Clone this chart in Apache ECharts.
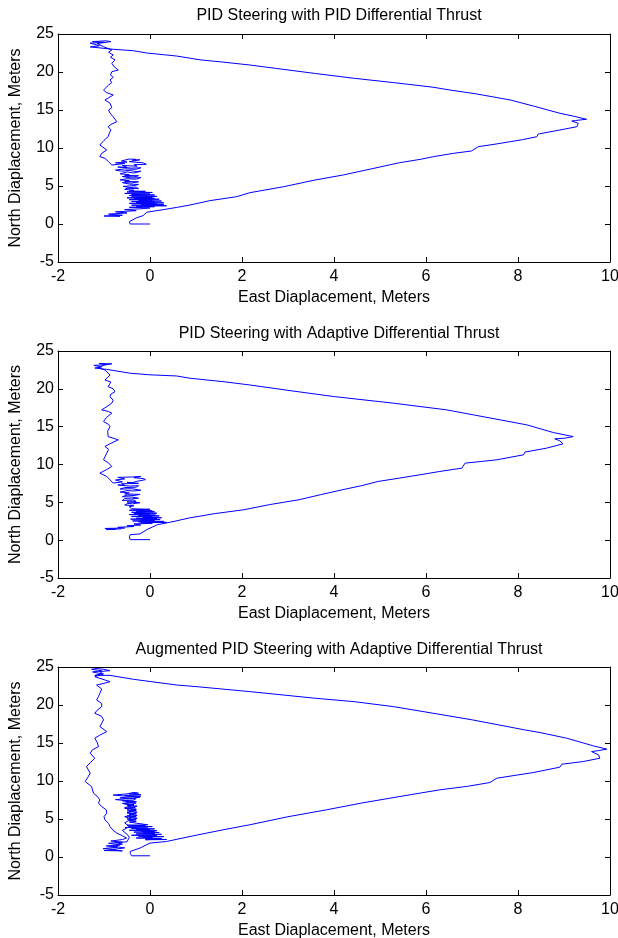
<!DOCTYPE html>
<html>
<head>
<meta charset="utf-8">
<script src="https://cdn.jsdelivr.net/npm/echarts@6/dist/echarts.min.js"></script>
<style>
html,body{margin:0;padding:0;background:#fff;}
#chart{width:618px;height:938px;}
</style>
</head>
<body>
<div id="chart"></div>
<script>
// ---- Data ----
const titles = [
  'PID Steering with PID Differential Thrust',
  'PID Steering with Adaptive Differential Thrust',
  'Augmented PID Steering with Adaptive Differential Thrust'
];
const xLabelName = 'East Diaplacement, Meters';
const yLabelName = 'North Diaplacement, Meters';
const xRange = [-2, 10];
const yRange = [-5, 25];

// Plot 1: PID steering / PID thrust  [east, north]
const pathPID = [
  [0,0],[-0.43,0],[-0.45,0.3],[-0.42,0.55],[-0.3,0.8],[-0.15,1.1],[-0.07,1.55],[0.3,1.9],[0.6,2.2],[0.87,2.5],
  [1.3,3.07],[1.88,3.59],[2.17,4.12],[2.9,4.9],[3.59,5.79],[4.2,6.45],[4.87,7.33],[5.43,8.07],[5.87,8.5],[6.16,8.86],
  [6.6,9.3],[6.99,9.61],[7.14,10.18],[7.5,10.5],[7.83,10.83],[8.1,11.1],[8.41,11.49],[8.44,11.84],[8.91,12.37],[9.28,12.8],
  [9.31,13.25],[9.17,13.55],[9.25,13.62],[9.49,13.78],
  [9.2,14.2],[8.91,14.57],[8.33,15.53],[7.83,16.32],[7.1,17.11],[6.52,17.63],[6.15,18.0],[5.3,18.6],[4.44,19.17],[3.6,19.8],
  [2.73,20.48],[2.17,20.92],[1.59,21.3],[1.09,21.6],[0.58,22.1],[-0.07,22.5],[-0.36,22.8],[-0.8,22.99],
  [-1.3,23.3],[-1.1,23.45],[-1.3,23.8],[-1.0,23.9],[-1.25,24.0],[-0.95,24.1],[-0.85,24.0],[-1.15,23.75],[-1.01,23.33],
  [-0.83,22.9],[-0.9,22.6],[-0.8,22.24],[-0.86,21.95],[-0.76,21.6],[-0.83,21.14],[-0.78,20.7],[-0.69,20.26],[-0.83,20.04],
  [-0.86,19.6],[-0.8,19.3],[-0.87,18.95],[-0.83,18.6],[-0.9,18.29],[-1.01,17.63],[-0.95,17.3],[-0.8,16.97],[-0.9,16.6],
  [-0.98,16.32],[-0.87,15.9],[-0.85,15.66],[-0.83,15.3],[-0.9,15.0],[-0.87,14.6],[-0.8,14.1],[-0.72,13.46],[-0.85,13.1],
  [-0.91,12.8],[-0.85,12.4],[-0.88,12.0],[-0.91,11.49],[-1.0,11.0],[-1.09,10.39],[-1.0,10.0],[-0.94,9.74],[-1.05,9.3],
  [-1.09,8.86],[-0.98,8.64],[-0.9,8.2],[-0.83,7.76],
  [-0.55,7.95],[-0.75,8.05],[-0.5,8.15],[-0.62,8.3],[-0.45,8.55],[-0.3,8.5],[-0.38,8.4],[-0.22,8.45],[-0.25,8.3],[-0.45,8.2],
  [-0.15,8.05],[-0.08,7.85],[-0.35,7.8],[-0.28,7.6],[-0.6,7.7],[-0.5,7.45],[-0.7,7.5],[-0.4,7.35],[-0.2,7.4],[-0.3,7.2],
  [-0.55,7.25],[-0.75,7.1],[-0.62,6.95],[-0.45,7.05],[-0.3,6.9],[-0.2,6.95],[-0.35,6.7],[-0.5,6.85],[-0.65,6.6],[-0.45,6.5],
  [-0.55,6.4],[-0.25,6.35],[-0.35,6.2],[-0.6,6.25],[-0.4,6.05],[-0.2,6.1],[-0.3,5.9],[-0.5,5.95],[-0.65,5.8],[-0.45,5.7],
  [-0.55,5.6],[-0.25,5.55],[-0.4,5.4],[-0.6,5.45],[-0.45,5.25],[-0.25,5.2],[-0.35,5.05],[-0.58,4.95],[-0.45,4.8],[-0.3,4.85],
  [-0.25,4.65],[-0.5,4.7],[-0.55,4.55],[-0.35,4.45],
  [-0.45,4.35],[-0.1,4.3],[-0.5,4.22],[0.05,4.15],[-0.3,4.1],[-0.55,4.02],[0.0,3.95],[-0.4,3.9],[0.1,3.82],[-0.45,3.75],
  [-0.05,3.7],[0.15,3.63],[-0.4,3.57],[0.05,3.5],[-0.5,3.44],[0.1,3.38],[-0.35,3.32],[0.2,3.26],[-0.45,3.2],[0.05,3.14],
  [-0.25,3.08],[0.25,3.02],[-0.4,2.96],[0.1,2.9],[-0.3,2.84],[0.3,2.78],[-0.45,2.72],[0.15,2.66],[-0.2,2.6],[0.3,2.54],
  [-0.4,2.48],[0.36,2.4],[-0.3,2.35],[0.1,2.28],[-0.45,2.2],[0.0,2.12],
  [-0.2,2.0],[-0.55,1.9],[-0.3,1.75],[-0.75,1.6],[-0.5,1.45],[-0.9,1.3],[-0.6,1.15],[-1.0,1.05],[-0.65,1.0]
];

// Plot 2: PID steering / adaptive thrust
const pathAdaptive = [
  [0,0.07],[-0.43,0.07],[-0.45,0.45],[-0.43,0.73],[-0.22,0.82],[-0.07,1.39],[0.16,2.04],[0.5,2.45],[0.85,2.93],[1.4,3.5],
  [2.04,4.02],[2.6,4.7],[3.24,5.34],[3.7,6.0],[4.18,6.66],[4.6,7.2],[4.96,7.76],[5.43,8.21],[5.87,8.64],[6.3,9.08],
  [6.78,9.52],[6.85,10.18],[7.2,10.4],[7.54,10.62],[8.12,11.28],[8.15,11.64],[8.62,12.16],[8.98,12.73],[8.91,13.13],[8.8,13.39],
  [9.02,13.48],[9.2,13.69],
  [8.77,14.22],[8.19,15.24],[7.61,15.9],[7.03,16.56],[6.45,17.22],[5.3,18.1],[4.01,18.97],[3.0,19.8],[2.17,20.51],[1.59,20.95],
  [0.87,21.4],[0.58,21.7],[0.0,21.85],[-0.43,22.06],[-0.95,22.58],
  [-1.0,22.6],[-1.2,22.75],[-1.05,22.9],[-1.22,23.1],[-0.95,23.2],[-1.1,23.35],[-0.83,23.3],[-1.0,23.15],[-1.12,22.8],[-0.98,22.49],
  [-0.87,21.83],[-0.92,21.5],[-0.98,21.17],[-0.85,20.9],[-0.91,20.29],[-0.8,20.0],[-0.76,19.63],[-0.85,19.3],[-0.87,18.97],
  [-0.8,18.5],[-0.83,18.1],[-0.95,17.6],[-1.05,17.22],[-0.9,17.0],[-0.83,16.78],[-0.95,16.2],[-1.01,15.67],[-0.9,15.3],
  [-0.87,15.01],[-0.92,14.4],[-0.91,13.69],[-0.69,13.26],[-0.85,12.8],[-0.98,12.38],[-0.9,12.0],[-0.94,11.5],[-0.98,11.0],
  [-1.01,10.62],[-0.9,10.2],[-0.83,9.74],[-0.95,9.3],[-1.09,8.87],[-0.94,8.42],[-0.8,7.55],
  [-0.6,7.7],[-0.75,7.95],[-0.55,8.1],[-0.7,8.3],[-0.4,8.35],[-0.2,8.42],[-0.35,8.25],[-0.15,8.15],[-0.1,8.0],[-0.07,7.85],
  [-0.3,7.75],[-0.4,7.55],[-0.5,7.65],[-0.25,7.5],[-0.62,7.45],[-0.55,7.25],[-0.7,7.3],[-0.45,7.15],[-0.25,7.2],[-0.3,7.0],
  [-0.55,6.95],[-0.65,6.75],[-0.4,6.8],[-0.2,6.6],[-0.35,6.5],[-0.5,6.55],[-0.65,6.35],[-0.45,6.25],[-0.55,6.1],[-0.22,6.05],
  [-0.35,5.9],[-0.5,5.95],[-0.6,5.75],[-0.4,5.7],[-0.25,5.55],[-0.4,5.45],[-0.55,5.5],[-0.6,5.25],[-0.35,5.3],[-0.3,5.1],
  [-0.5,5.05],[-0.22,4.95],[-0.38,4.8],[-0.48,4.85],[-0.55,4.65],[-0.35,4.55],[-0.45,4.4],
  [-0.4,4.15],[0.0,4.08],[-0.35,4.02],[-0.45,3.95],[0.05,3.88],[-0.3,3.82],[0.1,3.75],[-0.4,3.68],[-0.05,3.62],[0.15,3.56],
  [-0.35,3.5],[0.0,3.44],[-0.45,3.38],[0.12,3.32],[-0.25,3.26],[0.2,3.2],[-0.4,3.14],[0.05,3.08],[-0.15,3.02],[0.25,2.96],
  [-0.3,2.9],[0.15,2.84],[-0.42,2.78],[0.22,2.72],[-0.2,2.66],[0.1,2.6],[-0.38,2.54],[0.3,2.48],[-0.25,2.42],[0.36,2.35],
  [-0.2,2.3],[0.05,2.22],[-0.35,2.15],
  [-0.2,2.0],[-0.5,1.9],[-0.35,1.8],[-0.7,1.7],[-0.55,1.6],[-0.98,1.55],[-0.75,1.45],[-0.95,1.4],[-0.62,1.5]
];

// Plot 3: augmented PID steering / adaptive thrust
const pathAugmented = [
  [0,0.16],[-0.4,0.16],[-0.43,0.45],[-0.43,0.73],[-0.22,1.17],[0,1.83],[0.36,2.04],[0.87,2.7],[1.59,3.58],[2.17,4.24],
  [3.0,5.3],[3.84,6.21],[4.6,7.1],[5.43,7.96],[6.3,8.84],[6.9,9.3],[7.39,9.8],[7.54,10.37],[8.0,10.8],[8.33,11.11],
  [8.91,11.82],[8.95,12.21],[9.42,12.56],[9.78,13.0],[9.75,13.44],[9.6,13.87],[9.75,14.0],[9.93,14.19],
  [9.64,14.62],[9.06,15.63],[8.48,16.37],[8.15,16.72],[7.01,18.04],[6.15,18.92],[5.3,19.78],[4.44,20.44],[3.59,20.89],
  [2.17,21.76],[1.02,22.41],[0.58,22.63],[-0.36,23.38],[-0.87,23.9],
  [-1.2,23.9],[-1.05,24.1],[-1.25,24.35],[-1.05,24.5],[-1.27,24.7],[-1.15,24.8],[-1.01,24.7],[-0.87,24.52],[-1.1,24.4],
  [-1.01,24.08],[-1.2,23.73],
  [-0.87,23.07],[-1.0,22.85],[-1.16,22.63],[-1.05,22.1],[-1.09,21.54],[-1.12,21.1],[-1.16,20.66],[-1.05,20.2],[-1.05,19.78],
  [-1.15,19.3],[-1.2,18.92],[-1.05,18.5],[-1.01,18.04],[-1.09,17.16],[-0.94,16.5],[-1.1,16.0],[-1.2,15.63],[-1.15,15.1],
  [-1.12,14.53],[-1.25,14.1],[-1.3,13.66],[-1.2,13.0],[-1.3,12.4],[-1.38,11.9],[-1.3,11.03],[-1.35,10.5],[-1.41,9.93],
  [-1.27,9.27],[-1.23,8.4],[-1.15,8.0],[-1.09,7.52],[-1.12,7.1],[-1.05,6.64],[-0.95,6.2],[-0.94,5.77],[-1.0,5.3],
  [-0.98,4.89],[-0.9,4.4],[-0.87,4.01],[-0.8,3.5],[-0.72,3.14],[-0.6,2.8],[-0.51,2.49],
  [-0.6,2.3],[-0.85,2.1],[-0.6,1.95],[-0.9,1.8],[-0.65,1.6],[-0.95,1.45],[-0.7,1.3],[-1.02,1.1],[-0.75,1.0],[-1.0,0.85],
  [-0.6,0.8],[-0.85,0.95],[-0.55,1.2],[-0.8,1.4],[-0.6,1.7],[-0.75,1.9],[-0.5,2.0],[-0.45,2.6],
  [-0.5,3.0],[-0.6,3.5],[-0.45,4.0],[-0.55,4.5],[-0.4,5.0],[-0.55,5.3],[-0.35,5.6],[-0.5,5.9],[-0.3,6.2],[-0.55,6.5],
  [-0.35,6.8],[-0.6,7.05],[-0.3,7.3],[-0.75,7.55],[-0.45,7.7],[-0.22,7.85],[-0.5,8.0],[-0.8,8.15],[-0.5,8.3],[-0.35,8.5],
  [-0.25,8.4],[-0.45,8.3],[-0.2,8.2],[-0.55,8.1],[-0.2,8.0],[-0.4,7.9],[-0.65,7.8],[-0.5,7.65],[-0.3,7.7],[-0.35,7.5],
  [-0.6,7.4],[-0.45,7.25],[-0.3,7.3],[-0.5,7.2],[-0.3,7.1],[-0.4,6.95],[-0.55,7.0],[-0.35,6.9],[-0.5,6.8],[-0.28,6.7],
  [-0.4,6.55],[-0.48,6.6],[-0.32,6.5],[-0.55,6.4],[-0.3,6.3],[-0.42,6.15],[-0.5,6.2],[-0.3,6.1],[-0.45,6.0],[-0.28,5.9],
  [-0.38,5.75],[-0.5,5.8],[-0.3,5.7],[-0.45,5.6],[-0.28,5.5],[-0.42,5.35],[-0.5,5.4],[-0.3,5.3],[-0.45,5.2],[-0.28,5.1],
  [-0.4,4.95],[-0.5,5.0],[-0.3,4.9],[-0.45,4.8],[-0.3,4.7],[-0.45,4.6],[-0.3,4.45],
  [-0.3,4.3],[-0.05,4.24],[-0.5,4.18],[-0.1,4.12],[-0.45,4.06],[0.05,4.0],[-0.35,3.94],[-0.54,3.88],[-0.05,3.82],[-0.4,3.76],
  [0.1,3.7],[-0.3,3.64],[0.0,3.58],[-0.45,3.52],[0.15,3.46],[-0.2,3.4],[0.1,3.34],[-0.35,3.28],[0.2,3.22],[-0.15,3.16],
  [0.1,3.1],[-0.3,3.04],[0.25,2.98],[-0.1,2.92],[-0.4,2.86],[0.15,2.8],[-0.25,2.74],[0.3,2.68],[-0.15,2.62],[0.05,2.56],
  [-0.3,2.5],[0.25,2.44],[-0.1,2.38],[0.36,2.3],[-0.1,2.27],[0.2,2.35]
];

const paths = [pathPID, pathAdaptive, pathAugmented];

// ---- Layout ----
const FONT = "'Liberation Sans', Arial, Helvetica, sans-serif";
const gridTops = [34, 351, 667];
const gridHeights = [228, 227, 228];
const titleTops = [3, 321, 637];
const lineColor = '#0000ff';

const grids = [], xAxes = [], yAxes = [], series = [], titleArr = [];
const tick = {show: true, inside: true, length: 5, lineStyle: {color: '#000', width: 1}};
const axLine = {show: true, onZero: false, lineStyle: {color: '#000', width: 1}};

for (let i = 0; i < 3; i++) {
  grids.push({left: 58, right: 8, top: gridTops[i], height: gridHeights[i], containLabel: false, outerBoundsMode: 'none'});
  titleArr.push({
    text: titles[i], left: 334, top: titleTops[i], textAlign: 'center',
    textStyle: {fontFamily: FONT, fontSize: 16, fontWeight: 'normal', color: '#000'}
  });
  xAxes.push({
    type: 'value', gridIndex: i, position: 'bottom', min: xRange[0], max: xRange[1], interval: 2,
    axisLine: axLine, axisTick: tick, splitLine: {show: false},
    axisLabel: {color: '#000', fontFamily: FONT, fontSize: 16, margin: 7},
    name: xLabelName, nameLocation: 'middle', nameGap: 28,
    nameTextStyle: {color: '#000', fontFamily: FONT, fontSize: 16}
  });
  xAxes.push({
    type: 'value', gridIndex: i, position: 'top', min: xRange[0], max: xRange[1], interval: 2,
    axisLine: axLine, axisTick: tick, splitLine: {show: false}, axisLabel: {show: false}
  });
  yAxes.push({
    type: 'value', gridIndex: i, position: 'left', min: yRange[0], max: yRange[1], interval: 5,
    axisLine: axLine, axisTick: tick, splitLine: {show: false},
    axisLabel: {color: '#000', fontFamily: FONT, fontSize: 16, margin: 4},
    name: yLabelName, nameLocation: 'middle', nameGap: 34,
    nameTextStyle: {color: '#000', fontFamily: FONT, fontSize: 16}
  });
  yAxes.push({
    type: 'value', gridIndex: i, position: 'right', min: yRange[0], max: yRange[1], interval: 5,
    axisLine: axLine, axisTick: tick, splitLine: {show: false}, axisLabel: {show: false}
  });
  series.push({
    type: 'line', xAxisIndex: 2 * i, yAxisIndex: 2 * i, data: paths[i],
    showSymbol: false, symbol: 'none', smooth: false, clip: true,
    lineStyle: {color: lineColor, width: 1}, itemStyle: {color: lineColor},
    animation: false
  });
}

const chart = echarts.init(document.getElementById('chart'), null, {renderer: 'canvas'});
chart.setOption({
  animation: false,
  backgroundColor: '#fff',
  textStyle: {fontFamily: FONT},
  title: titleArr,
  grid: grids,
  xAxis: xAxes,
  yAxis: yAxes,
  series: series
});
</script>
</body>
</html>
